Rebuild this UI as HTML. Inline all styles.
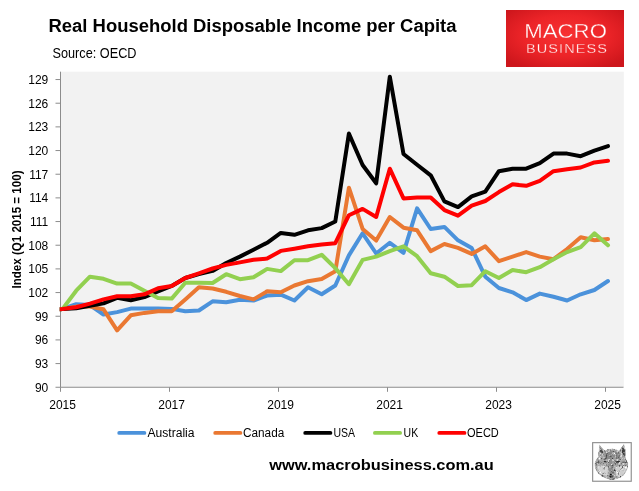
<!DOCTYPE html>
<html><head><meta charset="utf-8"><title>Real Household Disposable Income per Capita</title>
<style>
html,body{margin:0;padding:0;background:#fff;}
body{width:639px;height:491px;overflow:hidden;font-family:"Liberation Sans",sans-serif;}
svg{display:block;}
text{font-family:"Liberation Sans",sans-serif;}
</style></head><body>
<svg width="639" height="491" viewBox="0 0 639 491">
<defs>
<radialGradient id="lg" cx="50%" cy="45%" r="65%">
<stop offset="0" stop-color="#f83232"/><stop offset="0.55" stop-color="#ec2428"/><stop offset="1" stop-color="#cd161c"/>
</radialGradient>
</defs>
<rect width="639" height="491" fill="#ffffff"/>
<g opacity="0.999">

<text x="48.5" y="32" font-size="19.2" font-weight="bold" fill="#000" textLength="408" lengthAdjust="spacingAndGlyphs">Real Household Disposable Income per Capita</text>
<text x="52.5" y="58.3" font-size="14.5" fill="#000" textLength="84" lengthAdjust="spacingAndGlyphs">Source: OECD</text>
<rect x="506" y="10" width="118" height="57" fill="url(#lg)"/>
<text x="524.3" y="37.8" font-size="20" fill="#fff" textLength="82.6" lengthAdjust="spacingAndGlyphs" stroke="#ee282c" stroke-width="0.32">MACRO</text>
<text transform="translate(526,52.9) scale(1.15,1)" font-size="12.6" fill="#fff" textLength="70.4" lengthAdjust="spacing" stroke="#ee282c" stroke-width="0.3">BUSINESS</text>
<rect x="60.5" y="71.7" width="563.3" height="315.5" fill="#f2f2f2"/>
<g stroke="#8c8c8c" stroke-width="1" fill="none">
<line x1="60.5" y1="71.7" x2="60.5" y2="387.25"/>
<line x1="60.5" y1="387.25" x2="623.5" y2="387.25"/>
<line x1="55.5" y1="387.25" x2="60.5" y2="387.25"/>
<line x1="55.5" y1="363.58" x2="60.5" y2="363.58"/>
<line x1="55.5" y1="339.91" x2="60.5" y2="339.91"/>
<line x1="55.5" y1="316.24" x2="60.5" y2="316.24"/>
<line x1="55.5" y1="292.57" x2="60.5" y2="292.57"/>
<line x1="55.5" y1="268.90" x2="60.5" y2="268.90"/>
<line x1="55.5" y1="245.23" x2="60.5" y2="245.23"/>
<line x1="55.5" y1="221.56" x2="60.5" y2="221.56"/>
<line x1="55.5" y1="197.89" x2="60.5" y2="197.89"/>
<line x1="55.5" y1="174.22" x2="60.5" y2="174.22"/>
<line x1="55.5" y1="150.55" x2="60.5" y2="150.55"/>
<line x1="55.5" y1="126.88" x2="60.5" y2="126.88"/>
<line x1="55.5" y1="103.21" x2="60.5" y2="103.21"/>
<line x1="55.5" y1="79.54" x2="60.5" y2="79.54"/>
<line x1="60.50" y1="387.25" x2="60.50" y2="391.8"/>
<line x1="169.50" y1="387.25" x2="169.50" y2="391.8"/>
<line x1="278.50" y1="387.25" x2="278.50" y2="391.8"/>
<line x1="387.50" y1="387.25" x2="387.50" y2="391.8"/>
<line x1="496.50" y1="387.25" x2="496.50" y2="391.8"/>
<line x1="605.50" y1="387.25" x2="605.50" y2="391.8"/>
</g>
<g font-size="12" fill="#000" text-anchor="end">
<text x="48.3" y="391.65">90</text>
<text x="48.3" y="367.98">93</text>
<text x="48.3" y="344.31">96</text>
<text x="48.3" y="320.64">99</text>
<text x="48.3" y="296.97">102</text>
<text x="48.3" y="273.30">105</text>
<text x="48.3" y="249.63">108</text>
<text x="48.3" y="225.96">111</text>
<text x="48.3" y="202.29">114</text>
<text x="48.3" y="178.62">117</text>
<text x="48.3" y="154.95">120</text>
<text x="48.3" y="131.28">123</text>
<text x="48.3" y="107.61">126</text>
<text x="48.3" y="83.94">129</text>
</g>
<g font-size="12" fill="#000" text-anchor="middle">
<text x="62.60" y="408.8">2015</text>
<text x="171.60" y="408.8">2017</text>
<text x="280.60" y="408.8">2019</text>
<text x="389.60" y="408.8">2021</text>
<text x="498.60" y="408.8">2023</text>
<text x="607.60" y="408.8">2025</text>
</g>
<text transform="translate(21.0,288.5) rotate(-90)" font-size="12.6" font-weight="bold" fill="#000" textLength="118" lengthAdjust="spacingAndGlyphs">Index (Q1 2015 = 100)</text>
<clipPath id="pc"><rect x="59.8" y="71.7" width="564" height="315.5"/></clipPath>
<g fill="none" stroke-width="4" stroke-linejoin="round" stroke-linecap="round" clip-path="url(#pc)">
<polyline stroke="#4b92db" points="59.5,309.2 62.6,308.9 76.2,304.2 89.9,305.0 103.5,314.5 117.1,312.1 130.8,308.6 144.4,308.6 158.0,308.6 171.7,308.9 185.3,311.3 198.9,310.5 212.6,301.3 226.2,302.3 239.9,299.8 253.5,300.5 267.1,295.5 280.8,294.7 294.4,300.5 308.0,287.2 321.7,294.3 335.3,285.5 348.9,255.4 362.6,233.3 376.2,253.5 389.8,242.8 403.5,252.8 417.1,208.3 430.7,229.0 444.4,226.9 458.0,240.3 471.7,248.1 485.3,276.7 498.9,288.0 512.6,292.3 526.2,300.1 539.8,293.6 553.5,296.8 567.1,300.5 580.7,294.3 594.4,290.0 608.0,281.0"/>
<polyline stroke="#ea7832" points="59.5,309.2 62.6,308.9 76.2,306.6 89.9,306.6 103.5,309.3 117.1,330.3 130.8,315.3 144.4,312.9 158.0,311.3 171.7,311.3 185.3,299.4 198.9,287.2 212.6,288.5 226.2,291.8 239.9,296.0 253.5,299.4 267.1,291.3 280.8,292.3 294.4,285.5 308.0,281.2 321.7,279.0 335.3,271.3 348.9,187.7 362.6,228.9 376.2,240.6 389.8,217.0 403.5,227.7 417.1,230.3 430.7,251.1 444.4,244.0 458.0,247.9 471.7,253.9 485.3,246.3 498.9,261.2 512.6,256.6 526.2,252.1 539.8,256.6 553.5,259.2 567.1,249.1 580.7,237.3 594.4,240.3 608.0,239.1"/>
<polyline stroke="#000000" points="59.5,309.2 62.6,308.9 76.2,308.2 89.9,305.8 103.5,303.4 117.1,297.9 130.8,300.2 144.4,297.1 158.0,291.5 171.7,286.0 185.3,278.0 198.9,274.1 212.6,270.9 226.2,263.0 239.9,256.6 253.5,249.8 267.1,242.8 280.8,232.9 294.4,234.8 308.0,230.3 321.7,228.1 335.3,221.5 348.9,133.6 362.6,165.0 376.2,183.3 389.8,76.7 403.5,154.0 417.1,164.7 430.7,175.3 444.4,201.4 458.0,207.1 471.7,196.4 485.3,191.7 498.9,171.2 512.6,168.7 526.2,168.7 539.8,163.2 553.5,153.6 567.1,153.6 580.7,156.2 594.4,150.7 608.0,146.1"/>
<polyline stroke="#92d050" points="59.5,309.2 62.6,308.9 76.2,290.7 89.9,276.7 103.5,278.8 117.1,283.6 130.8,283.6 144.4,290.7 158.0,297.9 171.7,298.6 185.3,282.8 198.9,282.8 212.6,283.0 226.2,274.2 239.9,279.2 253.5,277.2 267.1,268.9 280.8,271.1 294.4,260.2 308.0,260.2 321.7,254.8 335.3,268.1 348.9,284.2 362.6,259.9 376.2,256.6 389.8,251.1 403.5,246.3 417.1,256.2 430.7,273.3 444.4,276.7 458.0,286.0 471.7,285.2 485.3,271.2 498.9,278.0 512.6,270.0 526.2,272.2 539.8,267.2 553.5,259.2 567.1,252.1 580.7,247.1 594.4,233.3 608.0,245.3"/>
<polyline stroke="#ff0000" points="59.5,309.2 62.6,308.9 76.2,307.2 89.9,303.6 103.5,299.4 117.1,296.3 130.8,296.3 144.4,294.3 158.0,288.3 171.7,286.0 185.3,278.0 198.9,273.3 212.6,268.5 226.2,264.9 239.9,262.4 253.5,259.8 267.1,258.6 280.8,250.9 294.4,248.7 308.0,246.3 321.7,244.5 335.3,243.2 348.9,215.2 362.6,208.9 376.2,217.0 389.8,168.7 403.5,198.4 417.1,197.6 430.7,197.6 444.4,210.1 458.0,215.7 471.7,205.6 485.3,201.0 498.9,192.1 512.6,184.3 526.2,185.8 539.8,180.8 553.5,171.2 567.1,169.2 580.7,167.5 594.4,162.4 608.0,160.8"/>
</g>
<g stroke-width="3.8" stroke-linecap="round">
<line x1="119.2" y1="432.9" x2="144.4" y2="432.9" stroke="#4b92db"/>
<line x1="215.2" y1="432.9" x2="240.4" y2="432.9" stroke="#ea7832"/>
<line x1="305.2" y1="432.9" x2="330.4" y2="432.9" stroke="#000000"/>
<line x1="374.9" y1="432.9" x2="400.1" y2="432.9" stroke="#92d050"/>
<line x1="439.3" y1="432.9" x2="464.5" y2="432.9" stroke="#ff0000"/>
</g>
<g font-size="12" fill="#000">
<text x="147.5" y="436.6" textLength="47.0" lengthAdjust="spacingAndGlyphs">Australia</text>
<text x="243.0" y="436.6" textLength="41.3" lengthAdjust="spacingAndGlyphs">Canada</text>
<text x="333.4" y="436.6" textLength="21.6" lengthAdjust="spacingAndGlyphs">USA</text>
<text x="403.6" y="436.6" textLength="14.6" lengthAdjust="spacingAndGlyphs">UK</text>
<text x="467.0" y="436.6" textLength="31.8" lengthAdjust="spacingAndGlyphs">OECD</text>
</g>
<text x="269.2" y="470.2" font-size="14.9" font-weight="bold" fill="#000" textLength="224.6" lengthAdjust="spacingAndGlyphs">www.macrobusiness.com.au</text>
<defs>
<filter id="fur" x="-5%" y="-5%" width="110%" height="110%" color-interpolation-filters="sRGB">
<feTurbulence type="fractalNoise" baseFrequency="0.045 0.035" numOctaves="2" seed="7" result="n"/>
<feColorMatrix in="n" type="matrix" values="0 0 0 0 1  0 0 0 0 1  0 0 0 0 1  2.2 1.8 0 0 -2.02" result="w"/>
<feTurbulence type="fractalNoise" baseFrequency="0.05 0.04" numOctaves="2" seed="21" result="n2"/>
<feColorMatrix in="n2" type="matrix" values="0 0 0 0 0.2  0 0 0 0 0.2  0 0 0 0 0.2  0 2.3 1.9 0 -2.2" result="d"/>
<feMerge result="m"><feMergeNode in="SourceGraphic"/><feMergeNode in="w"/><feMergeNode in="d"/></feMerge>
<feComposite in="m" in2="SourceAlpha" operator="in" result="c"/>
<feGaussianBlur in="c" stdDeviation="4.5"/>
</filter>
</defs>
<g id="wolf">
<rect x="592.65" y="442.65" width="38.6" height="38.6" fill="#ffffff" stroke="#8f8f8f" stroke-width="1.15"/>
<g transform="translate(588,438) scale(0.09775)">
<g filter="url(#fur)">
<path d="M104,185 L116,64 L150,105 L192,150 L205,180 Z" fill="#a5a5a5"/>
<path d="M124,95 L160,150 L122,172 Z" fill="#5a5a5a"/>
<path d="M298,160 L340,98 L368,58 L386,120 L384,215 Z" fill="#8c8c8c"/>
<path d="M352,98 L378,125 L374,200 L344,156 Z" fill="#3c3c3c"/>
<path d="M150,142 Q200,105 250,108 Q300,112 335,140 Q385,190 412,255 Q415,300 396,335 Q375,385 335,402 Q300,425 268,428 L225,428 Q185,420 150,400 Q105,375 84,338 Q60,300 66,258 Q78,205 150,142 Z" fill="#a6a6a6"/>
<path d="M170,150 Q245,110 322,150 L330,225 Q250,200 165,225 Z" fill="#8a8a8a"/>
<path d="M95,290 Q150,270 205,300 L200,385 Q140,385 100,345 Z" fill="#d2d2d2"/>
<path d="M280,300 Q340,270 398,290 Q392,345 345,392 L285,392 Z" fill="#cecece"/>
<path d="M218,215 L262,215 L268,395 L212,395 Z" fill="#8e8e8e"/>
<path d="M150,238 Q185,225 220,250 Q185,262 150,238 Z" fill="#2e2e2e"/>
<path d="M262,250 Q300,225 338,238 Q300,262 262,250 Z" fill="#2e2e2e"/>
<path d="M75,250 Q110,235 150,250 Q110,270 75,250 Z" fill="#6a6a6a"/>
<path d="M340,245 Q375,232 408,252 Q372,268 340,245 Z" fill="#6a6a6a"/>
<ellipse cx="233" cy="386" rx="15" ry="20" fill="#111"/>
<path d="M190,405 Q233,440 275,405 L268,428 L225,428 Z" fill="#555"/>
</g>
</g>
</g>
</g></svg></body></html>
